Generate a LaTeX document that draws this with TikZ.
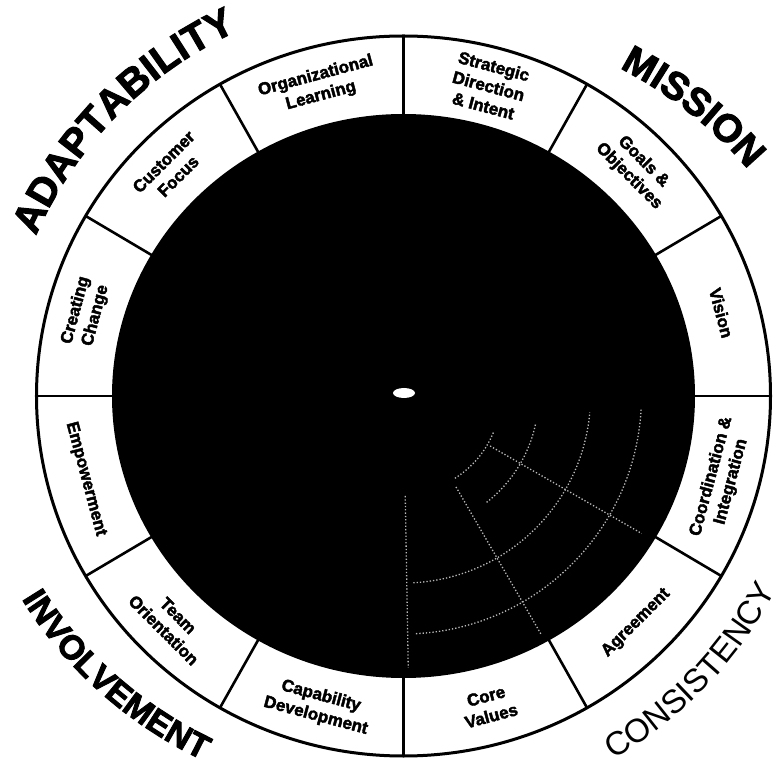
\documentclass[tikz,border=0pt]{standalone}
\usepackage{fontspec}
\setmainfont{Liberation Sans}
\newfontfamily\heavy{Liberation Sans Bold}[FakeBold=2.5]
\newfontfamily\plainsans{Liberation Sans}
\usetikzlibrary{decorations.text}
\tikzset{
  seglabel/.style={align=center, inner sep=0pt, font=\heavy\fontsize{17}{20.5}\selectfont},
  divider/.style={line width=2.6pt, black},
  faint/.style={gray!55, line width=1.3pt, dotted},
}
\begin{document}
\begin{tikzpicture}[x=1pt,y=1pt]
\useasboundingbox (-403.5,-371) rectangle (374.5,396);
\fill[white] (-403.5,-371) rectangle (374.5,396);
% ring
\draw[line width=3pt] (0,0) ellipse [x radius=367, y radius=360];
\fill[black] (0,0) ellipse [x radius=291.5, y radius=282];
\foreach \a in {0,30,...,330} \draw[divider] (\a:288 and 279) -- (\a:367 and 360);
% faint interior grid
\draw[faint] (-87:238) arc[start angle=-87, end angle=-3, radius=238];
\draw[faint] (-87:187) arc[start angle=-87, end angle=-5, radius=187];
\draw[faint] (-52:135) arc[start angle=-52, end angle=-12, radius=135];
\draw[faint] (-58:97) arc[start angle=-58, end angle=-22, radius=97];
\draw[faint] (-60:105) -- (-60:275);
\draw[faint] (-30:100) -- (-30:275);
\draw[faint] (-89:100) -- (-89:272);
\fill[white] (0.5,3) ellipse [x radius=11, y radius=5];
% segment labels
\node[seglabel, rotate=-15] (sdi) at (75:329 and 321) {Strategic\\Direction\\\& Intent};
\node[seglabel, rotate=-45] (goa) at (45:329 and 321) {Goals \&\\Objectives};
\node[seglabel, rotate=-75] (vis) at (15:329 and 321) {Vision};
\node[seglabel, rotate=75] (coo) at (-15:329 and 321) {Coordination \&\\Integration};
\node[seglabel, rotate=45] (agr) at (-45:329 and 321) {Agreement};
\node[seglabel, rotate=15] (cor) at (-75:329 and 321) {Core\\Values};
\node[seglabel, rotate=-15] (cap) at (-105:329 and 321) {Capability\\Development};
\node[seglabel, rotate=-45] (tea) at (-135:329 and 321) {Team\\Orientation};
\node[seglabel, rotate=-75] (emp) at (-165:329 and 321) {Empowerment};
\node[seglabel, rotate=75] (cre) at (165:329 and 321) {Creating\\Change};
\node[seglabel, rotate=45] (cus) at (135:329 and 321) {Customer\\Focus};
\node[seglabel, rotate=15] (org) at (105:329 and 321) {Organizational\\Learning};
% trait labels
\path[decorate, decoration={text along path, text align=center,
  text={|\heavy\fontsize{40}{40}\selectfont|ADAPTABILITY}}]
  (165.5:401) arc[start angle=165.5, end angle=105.5, radius=401];
\path[decorate, decoration={text along path, text align=center,
  text={|\heavy\fontsize{39}{39}\selectfont|MISSION}}]
  (77.5:429.5 and 379.5) arc[start angle=77.5, end angle=17.5, x radius=429.5, y radius=379.5];
\path[decorate, decoration={text along path, text align=center,
  text={|\heavy\fontsize{34}{34}\selectfont|INVOLVEMENT}}]
  (-164.1:439.5 and 409.5) arc[start angle=-164.1, end angle=-104.1, x radius=439.5, y radius=409.5];
\path[decorate, decoration={text along path, text align=center,
  text={|\plainsans\fontsize{33}{33}\selectfont|CONSISTENCY}}]
  (-73.75:420) arc[start angle=-73.75, end angle=-13.75, radius=420];
\end{tikzpicture}
\end{document}
